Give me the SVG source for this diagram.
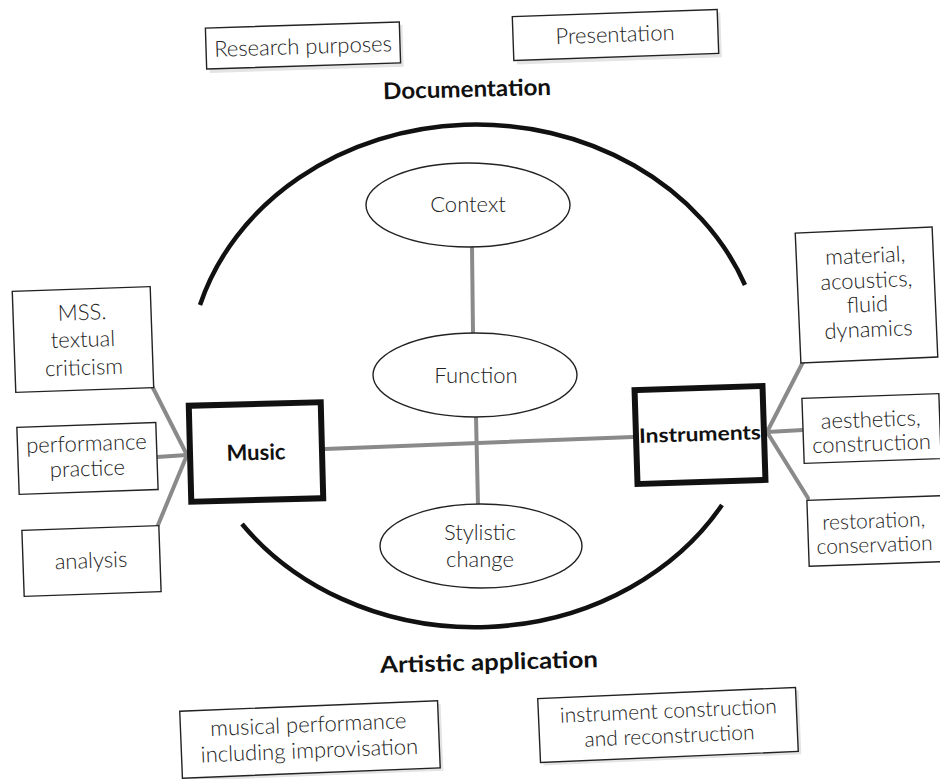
<svg xmlns="http://www.w3.org/2000/svg" width="940" height="779" viewBox="0 0 940 779">
<style>
.bg{fill:#ffffff}
.box{fill:#ffffff;stroke:#222;stroke-width:1.4}
.sh{fill:#e4e4e4;stroke:none}
.main{fill:#ffffff;stroke:#111;stroke-width:6}
.ell{fill:#ffffff;stroke:#222;stroke-width:1.4}
.t{font-family:Lato,"Open Sans","Liberation Sans",sans-serif;font-weight:300;font-size:22px;fill:#222;text-anchor:middle}
.s{font-size:21px}
.b{font-family:Lato,"Open Sans","Liberation Sans",sans-serif;font-weight:700;font-size:20px;fill:#111;text-anchor:middle}
.bl{font-size:23px}
.con{stroke:#8a8a8a;stroke-width:4;fill:none;stroke-linecap:round}
.arc{stroke:#111;stroke-width:4.5;fill:none}
</style>
<rect class="bg" x="0" y="0" width="940" height="779"/>
<g id="circle">
<path class="arc" d="M200,305 A288,251 0 0,1 745,285"/>
<path class="arc" d="M242,524 A288,251 0 0,0 722,505"/>
</g>
<g id="connectors">
<line class="con" x1="152" y1="386" x2="187" y2="455"/>
<line class="con" x1="157" y1="457" x2="187" y2="455"/>
<line class="con" x1="158" y1="525" x2="187" y2="455"/>
<line class="con" x1="767" y1="432" x2="803" y2="362"/>
<line class="con" x1="767" y1="432" x2="803" y2="430"/>
<line class="con" x1="767" y1="432" x2="808" y2="498"/>
<line class="con" x1="325" y1="449" x2="633" y2="437"/>
<line class="con" x1="472" y1="247" x2="473" y2="333"/>
<line class="con" x1="476" y1="417" x2="478" y2="505"/>
</g>
<g id="research" transform="rotate(-1.8 303 46)">
<rect class="sh" x="209" y="28" width="194" height="42"/>
<rect class="box" x="206" y="25" width="194" height="41"/>
<text class="t" x="303" y="54">Research purposes</text>
</g>
<g id="presentation" transform="rotate(-2 615 35)">
<rect class="sh" x="516" y="16" width="205" height="45"/>
<rect class="box" x="513" y="13" width="205" height="44"/>
<text class="t" x="615" y="42">Presentation</text>
</g>
<g id="documentation" transform="rotate(-1.5 467 90)">
<text class="b bl" x="467" y="97" textLength="168" lengthAdjust="spacingAndGlyphs">Documentation</text>
</g>
<g id="context">
<ellipse class="ell" cx="468" cy="205" rx="102" ry="42"/>
<text class="t" x="468" y="212">Context</text>
</g>
<g id="function">
<ellipse class="ell" cx="475" cy="375" rx="102" ry="42"/>
<text class="t" x="476" y="383">Function</text>
</g>
<g id="stylistic">
<ellipse class="ell" cx="481" cy="546" rx="101" ry="42"/>
<text class="t" x="480" y="540">Stylistic</text>
<text class="t" x="480" y="567">change</text>
</g>
<g id="music" transform="rotate(-1.5 256 452)">
<rect class="main" x="190" y="404" width="132" height="96"/>
<text class="b" x="256" y="460" style="font-size:22px">Music</text>
</g>
<g id="instruments" transform="rotate(-1.8 700 435)">
<rect class="main" x="636" y="388" width="128" height="94"/>
<text class="b" x="700" y="441" textLength="122" lengthAdjust="spacingAndGlyphs">Instruments</text>
</g>
<g id="mss" transform="rotate(-2 83 340)">
<rect class="box" x="14" y="289" width="138" height="101"/>
<text class="t" x="83" y="320">MSS.</text>
<text class="t" x="83" y="347">textual</text>
<text class="t" x="83" y="375">criticism</text>
</g>
<g id="performance" transform="rotate(-2 87 459)">
<rect class="box" x="18" y="425" width="139" height="67"/>
<text class="t" x="87" y="451">performance</text>
<text class="t" x="87" y="476">practice</text>
</g>
<g id="analysis" transform="rotate(-2 91 561)">
<rect class="box" x="23" y="528" width="137" height="66"/>
<text class="t" x="91" y="568">analysis</text>
</g>
<g id="material" transform="rotate(-2.5 867 295)">
<rect class="box" x="798" y="230" width="137" height="130"/>
<text class="t" x="867" y="263">material,</text>
<text class="t" x="867" y="288">acoustics,</text>
<text class="t" x="867" y="312">fluid</text>
<text class="t" x="867" y="337">dynamics</text>
</g>
<g id="aesthetics" transform="rotate(-2 871 428)">
<rect class="box" x="803" y="396" width="137" height="65"/>
<text class="t" x="871" y="427">aesthetics,</text>
<text class="t" x="871" y="451">construction</text>
</g>
<g id="restoration" transform="rotate(-2 874 531)">
<rect class="box" x="808" y="498" width="134" height="66"/>
<text class="t s" x="874" y="528">restoration,</text>
<text class="t s" x="874" y="552">conservation</text>
</g>
<g id="artistic" transform="rotate(-1.5 489 662)">
<text class="b bl" x="489" y="670" textLength="218" lengthAdjust="spacingAndGlyphs">Artistic application</text>
</g>
<g id="musical" transform="rotate(-2.3 310 740)">
<rect class="sh" x="184" y="709" width="258" height="67"/>
<rect class="box" x="181" y="706" width="258" height="67"/>
<text class="t" x="309" y="732">musical performance</text>
<text class="t" x="309" y="758">including improvisation</text>
</g>
<g id="construction" transform="rotate(-2.5 668 725)">
<rect class="sh" x="542" y="696" width="258" height="64"/>
<rect class="box" x="539" y="693" width="258" height="64"/>
<text class="t s" x="669" y="718">instrument construction</text>
<text class="t s" x="669" y="743">and reconstruction</text>
</g>
</svg>
